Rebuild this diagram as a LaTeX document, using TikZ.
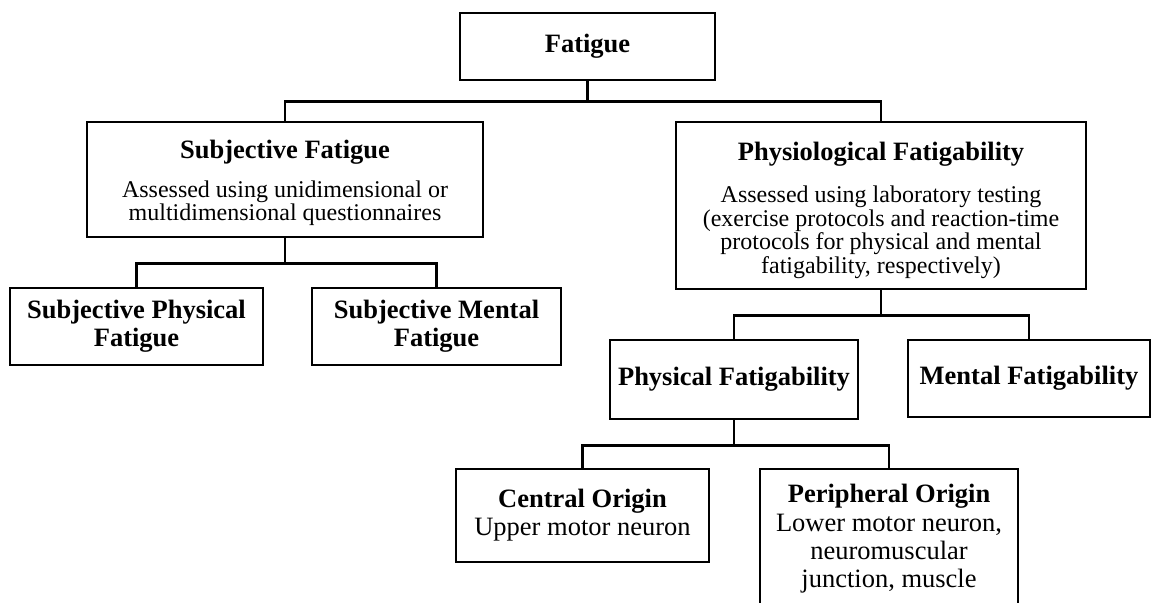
\documentclass[tikz,border=0pt]{standalone}
\usepackage{fontspec}
\setmainfont{Liberation Serif}
\usepackage{tikz}
\usetikzlibrary{positioning}

\newcommand{\descfont}{\fontsize{24}{23.5}\selectfont}
\newcommand{\titlefont}{\fontsize{26.5}{28}\selectfont\bfseries}

\begin{document}
\begin{tikzpicture}[x=1pt, y=-1pt,
  font=\fontsize{26.5}{28}\selectfont,
  % Box = plain rectangle with fixed size
  box/.style={rectangle, draw=black, line width=2.2pt, align=center, inner sep=2pt},
  % Box with a title and a smaller description
  descbox/.style={box, font=\descfont},
  % Tree connector = plain orthogonal line
  link/.style={line width=2.8pt}
]
\clip (0,0) rectangle (1155,602);
\useasboundingbox (0,0) rectangle (1155,602);

% ---- Root ----
\node[box, minimum width=255pt, minimum height=67pt] (fat) at (587.5,46.5) {\textbf{Fatigue}};

% ---- Level 1 ----
\node[descbox, minimum width=396pt, minimum height=115pt] (subj) at (285,179.5)
  {\rule{0pt}{26pt}{\titlefont Subjective Fatigue}\\[15pt]Assessed using unidimensional or\\multidimensional questionnaires};
\node[descbox, minimum width=410pt, minimum height=167pt] (phys) at (881,205.5)
  {\rule{0pt}{28pt}{\titlefont Physiological Fatigability}\\[19pt]Assessed using laboratory testing\\(exercise protocols and reaction-time\\protocols for physical and mental\\fatigability, respectively)};

% ---- Level 2 ----
\node[box, minimum width=253pt, minimum height=77pt] (sphys) at (136.5,326.5) {\textbf{Subjective Physical}\\\textbf{Fatigue}};
\node[box, minimum width=249pt, minimum height=77pt] (smen) at (436.5,326.5) {\textbf{Subjective Mental}\\\textbf{Fatigue}};
\node[box, minimum width=248pt, minimum height=79pt] (pfat) at (734,379.5) {\textbf{Physical Fatigability}};
\node[box, minimum width=242pt, minimum height=77pt] (mfat) at (1029,378.5) {\textbf{Mental Fatigability}};

% ---- Level 3 ----
\node[box, minimum width=253pt, minimum height=93pt] (cen) at (582.5,515.5)
  {\textbf{Central Origin}\\Upper motor neuron};
\node[box, minimum width=258pt, minimum height=140pt] (per) at (889,539)
  {\textbf{Peripheral Origin}\\[1pt]Lower motor neuron,\\neuromuscular\\junction, muscle};

% ---- Connectors ----
\draw[link] (fat.south) -- ++(0,20) -| (subj.north);
\draw[link] (fat.south) -- ++(0,20) -| (phys.north);
\draw[link] (subj.south) -- ++(0,25) -| (sphys.north);
\draw[link] (subj.south) -- ++(0,25) -| (smen.north);
\draw[link] (phys.south) -- ++(0,25) -| (pfat.north);
\draw[link] (phys.south) -- ++(0,25) -| (mfat.north);
\draw[link] (pfat.south) -- ++(0,25) -| (cen.north);
\draw[link] (pfat.south) -- ++(0,25) -| (per.north);

\end{tikzpicture}
\end{document}
